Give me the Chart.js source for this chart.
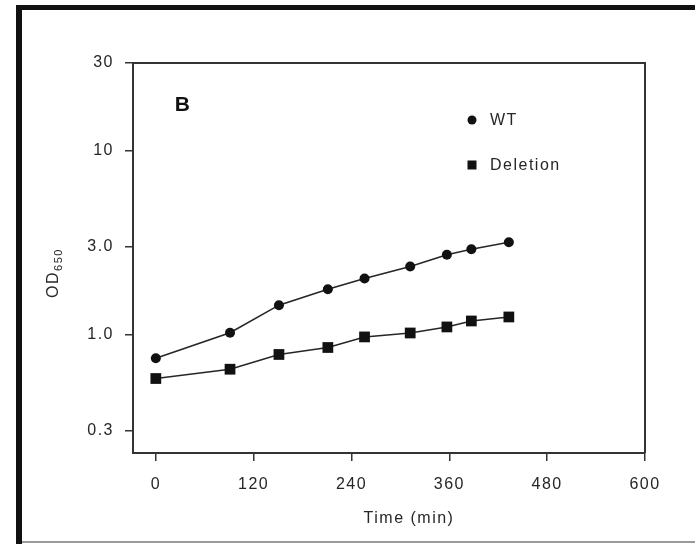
<!DOCTYPE html>
<html>
<head>
<meta charset="utf-8">
<script src="https://cdn.jsdelivr.net/npm/chart.js@4/dist/chart.umd.min.js"></script>
<style>
html,body{margin:0;padding:0;background:#fff;}
canvas{display:block;}
</style>
</head>
<body>
<canvas id="c" width="695" height="544"></canvas>
<script>
// ---- data ----
const timesMin = [0, 91, 151, 211, 256, 312, 357, 387, 433];
const wtOD = [0.74, 1.02, 1.44, 1.76, 2.01, 2.34, 2.71, 2.90, 3.17];
const deletionOD = [0.574, 0.645, 0.776, 0.847, 0.967, 1.016, 1.096, 1.181, 1.242];
const seriesNames = ['WT', 'Deletion'];
const xTicks = [0, 120, 240, 360, 480, 600];
const yTicks = [0.3, 1.0, 3.0, 10, 30];
const yTickLabels = ['0.3', '1.0', '3.0', '10', '30'];
const xTitle = 'Time (min)';
const yTitleMain = 'OD';
const yTitleSub = '650';
const panelLabel = 'B';

const INK = '#262626';
const FONT = '"Liberation Sans", Arial, sans-serif';

const spacingPlugin = {
  id: 'spacing',
  beforeLayout(chart) { chart.ctx.letterSpacing = '1.5px'; },
  beforeDraw(chart) { chart.ctx.letterSpacing = '1.5px'; }
};

const framePlugin = {
  id: 'frame',
  beforeDraw(chart) {
    const ctx = chart.ctx;
    ctx.save();
    ctx.fillStyle = '#fff';
    ctx.fillRect(0, 0, chart.width, chart.height);
    ctx.strokeStyle = '#111';
    ctx.lineWidth = 6;
    ctx.beginPath(); ctx.moveTo(19, 5); ctx.lineTo(19, 544); ctx.stroke();
    ctx.lineWidth = 5;
    ctx.beginPath(); ctx.moveTo(16, 7.5); ctx.lineTo(695, 7.5); ctx.stroke();
    ctx.strokeStyle = '#9a9a9a';
    ctx.lineWidth = 2;
    ctx.beginPath(); ctx.moveTo(22, 542); ctx.lineTo(695, 542); ctx.stroke();
    ctx.restore();
  },
  afterDraw(chart) {
    const ctx = chart.ctx;
    const a = chart.chartArea;
    ctx.save();
    ctx.letterSpacing = '1.5px';
    // top & right border of plot box
    ctx.strokeStyle = '#333';
    ctx.lineWidth = 2;
    ctx.beginPath();
    ctx.moveTo(a.left, a.top); ctx.lineTo(a.right, a.top); ctx.lineTo(a.right, a.bottom);
    ctx.stroke();
    // panel label
    ctx.fillStyle = '#111';
    ctx.font = 'bold 21px ' + FONT;
    ctx.textAlign = 'center'; ctx.textBaseline = 'middle';
    ctx.fillText(panelLabel, 183, 105);
    // legend
    const ds = chart.data.datasets;
    const ly = [120, 165];
    ds.forEach((d, i) => {
      ctx.fillStyle = '#111';
      if (d.pointStyle === 'circle') {
        ctx.beginPath(); ctx.arc(472, ly[i], 4.5, 0, Math.PI * 2); ctx.fill();
      } else {
        ctx.fillRect(467.5, ly[i] - 4.5, 9, 9);
      }
      ctx.fillStyle = INK;
      ctx.font = '16px ' + FONT;
      ctx.textAlign = 'left'; ctx.textBaseline = 'middle';
      ctx.fillText(d.label, 490, ly[i] + 1);
    });
    // x title
    ctx.font = '16px ' + FONT;
    ctx.textAlign = 'center'; ctx.textBaseline = 'middle';
    ctx.fillText(xTitle, 409, 519);
    // y title (rotated, with subscript)
    ctx.translate(53, 273);
    ctx.rotate(-Math.PI / 2);
    ctx.font = '16px ' + FONT;
    const w1 = ctx.measureText(yTitleMain).width;
    ctx.font = '11px ' + FONT;
    const w2 = ctx.measureText(yTitleSub).width;
    const start = -(w1 + w2) / 2;
    ctx.textAlign = 'left'; ctx.textBaseline = 'alphabetic';
    ctx.font = '16px ' + FONT;
    ctx.fillText(yTitleMain, start, 5);
    ctx.font = '11px ' + FONT;
    ctx.fillText(yTitleSub, start + w1, 9);
    ctx.restore();
  }
};

const tickFont = { family: FONT, size: 16 };

new Chart(document.getElementById('c'), {
  type: 'line',
  data: {
    datasets: [
      {
        label: seriesNames[0],
        data: timesMin.map((t, i) => ({ x: t, y: wtOD[i] })),
        borderColor: INK, borderWidth: 1.6,
        pointStyle: 'circle', pointRadius: 5, pointBackgroundColor: '#111', pointBorderColor: '#111', pointBorderWidth: 0,
        tension: 0
      },
      {
        label: seriesNames[1],
        data: timesMin.map((t, i) => ({ x: t, y: deletionOD[i] })),
        borderColor: INK, borderWidth: 1.6,
        pointStyle: 'rect', pointRadius: 7.6, pointBackgroundColor: '#111', pointBorderColor: '#111', pointBorderWidth: 0,
        tension: 0
      }
    ]
  },
  options: {
    responsive: false,
    animation: false,
    devicePixelRatio: 1,
    layout: { padding: { left: 33, right: 50, top: 63, bottom: 11 } },
    plugins: { legend: { display: false }, tooltip: { enabled: false } },
    scales: {
      x: {
        type: 'linear', min: -28, max: 600,
        afterFit(s) { s.height = 80; },
        afterBuildTicks(s) { s.ticks = xTicks.map(v => ({ value: v })); },
        ticks: { font: tickFont, color: INK, padding: 14, maxRotation: 0, autoSkip: false,
                 callback: (v) => String(v) },
        grid: { display: true, drawOnChartArea: false, drawTicks: true, tickLength: 8, color: '#333', lineWidth: 1.5 },
        border: { display: true, color: '#333', width: 2 },
        title: { display: false }
      },
      y: {
        type: 'logarithmic', min: 0.2256, max: 30,
        afterFit(s) { s.width = 100; },
        afterBuildTicks(s) { s.ticks = yTicks.map(v => ({ value: v })); },
        ticks: { font: tickFont, color: INK, padding: 11, autoSkip: false,
                 callback: (v, i) => yTickLabels[i] },
        grid: { display: true, drawOnChartArea: false, drawTicks: true, tickLength: 8, color: '#333', lineWidth: 1.5 },
        border: { display: true, color: '#333', width: 2 },
        title: { display: false }
      }
    }
  },
  plugins: [spacingPlugin, framePlugin]
});
</script>
</body>
</html>
